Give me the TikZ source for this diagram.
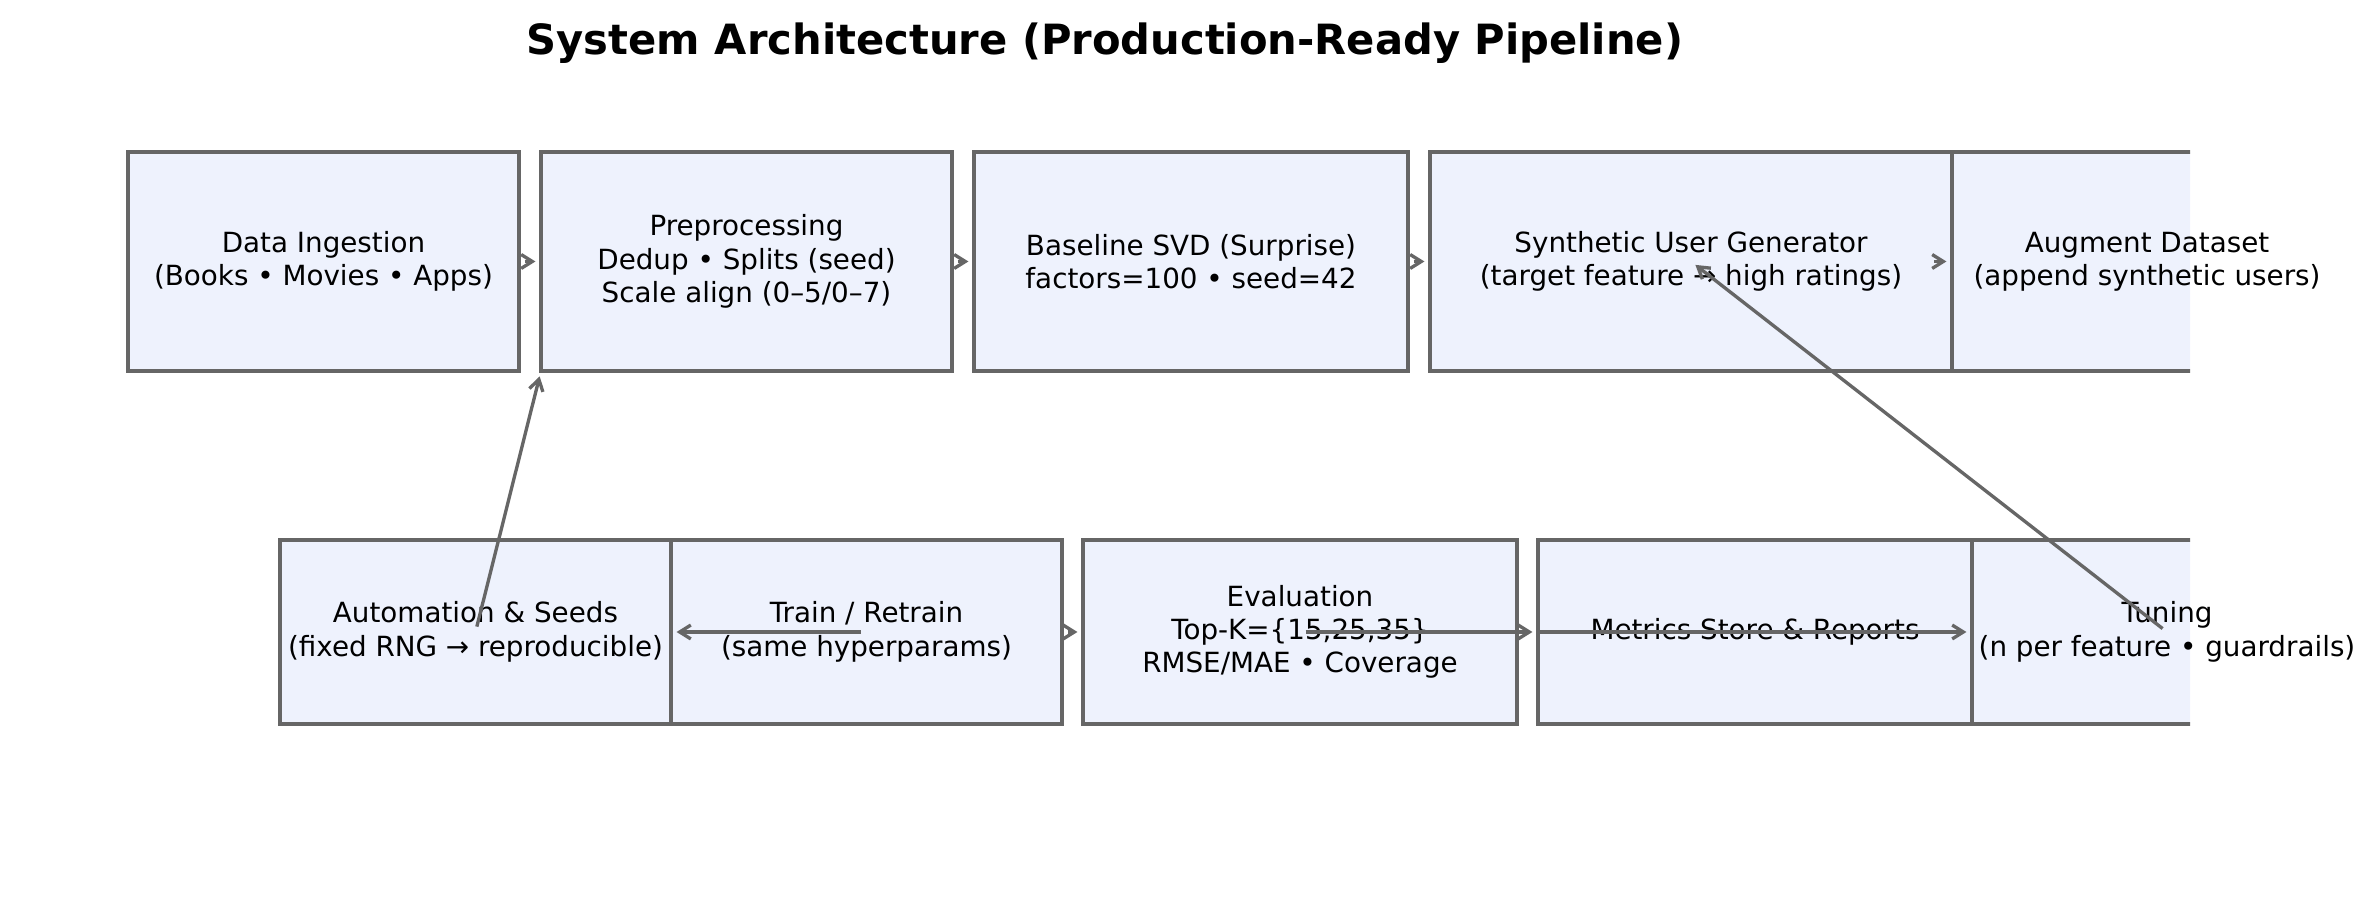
\documentclass[tikz,border=0pt]{standalone}
\usepackage{fontspec}
\setmainfont{DejaVu Sans}
\usepackage{tikz}
\usetikzlibrary{arrows.meta, positioning}

\definecolor{boxfill}{HTML}{EEF2FD}
\definecolor{edgegray}{HTML}{666666}

\pgfdeclarelayer{bg}
\pgfsetlayers{bg,main}

\begin{document}
\begin{tikzpicture}[
			x=0.36pt, y=-0.36pt,
			box/.style={draw=edgegray, line width=1.2pt, fill=boxfill, align=center, outer sep=0pt, inner sep=0pt,
				font=\fontsize{10}{12}\selectfont},
			toprow/.style={box, minimum height=78.84pt},
			botrow/.style={box, minimum height=66.24pt},
			cutbox/.style={align=center, outer sep=0pt, inner sep=0pt, font=\fontsize{10}{12}\selectfont},
			cutline/.style={draw=edgegray, line width=1.2pt, fill=boxfill},
			link/.style={-{Straight Barb[length=4pt, width=5pt]}, line width=1.2pt, draw=edgegray, shorten <=2pt, shorten >=2pt}
			]
			\useasboundingbox (0,0) rectangle (2376,897);
			
			% --- Title ---
			\node[font=\fontsize{15}{18}\selectfont\bfseries] (title) at (1105,43) {System Architecture (Production-Ready Pipeline)};
			
			% --- Top row ---
			\node[toprow, minimum width=140.76pt] (data) at (323.5,261.5) {Data Ingestion\\(Books • Movies • Apps)};
			\node[toprow, minimum width=147.96pt, right=7.92pt of data] (prep) {Preprocessing\\Dedup • Splits (seed)\\Scale align (0–5/0–7)};
			\node[toprow, minimum width=156.24pt, right=7.92pt of prep] (svd) {Baseline SVD (Surprise)\\factors=100 • seed=42};
			\node[toprow, minimum width=187.92pt, right=7.92pt of svd] (syn) {Synthetic User Generator\\(target feature → high ratings)};
			\node[cutbox, minimum width=140.4pt, minimum height=78.84pt, right=0pt of syn] (aug) {Augment Dataset\\(append synthetic users)};
			
			% --- Bottom row ---
			\node[botrow, minimum width=140.76pt] (auto) at (475.5,632) {Automation \& Seeds\\(fixed RNG → reproducible)};
			\node[botrow, minimum width=140.76pt, right=0pt of auto] (train) {Train / Retrain\\(same hyperparams)};
			\node[botrow, minimum width=156.24pt, right=7.56pt of train] (eval) {Evaluation\\Top-K=\{15,25,35\}\\RMSE/MAE • Coverage};
			\node[botrow, minimum width=156.24pt, right=7.56pt of eval] (met) {Metrics Store \& Reports};
			\node[cutbox, minimum width=140.4pt, minimum height=66.24pt, right=0pt of met] (tun) {Tuning\\(n per feature • guardrails)};
			
			% --- Boxes cut at the right margin ---
			\begin{pgfonlayer}{bg}
				\begin{scope}
					\clip (0,0) rectangle (2190,897);
					\draw[cutline] (aug.south west) rectangle (aug.north east);
					\draw[cutline] (tun.south west) rectangle (tun.north east);
				\end{scope}
			\end{pgfonlayer}
			
			% --- Arrows ---
			\draw[link] (data) -- (prep);
			\draw[link] (prep) -- (svd);
			\draw[link] (svd) -- (syn);
			\draw[link] ([xshift=-8.5pt]aug.west) -- (aug.west);
			
			\draw[link] (train) -- (eval);
			\draw[link] (eval.center) -- (met.west);
			\draw[link, shorten <=0pt] (met.west) -- (tun.west);
			
			% --- Feedback ---
			\draw[link] (train.center) -- (auto.east);
			\draw[link] (auto.center) -- (prep.south west);
			\draw[link] (tun.center) -- (syn.center);
			
	\end{tikzpicture}
\end{document}
